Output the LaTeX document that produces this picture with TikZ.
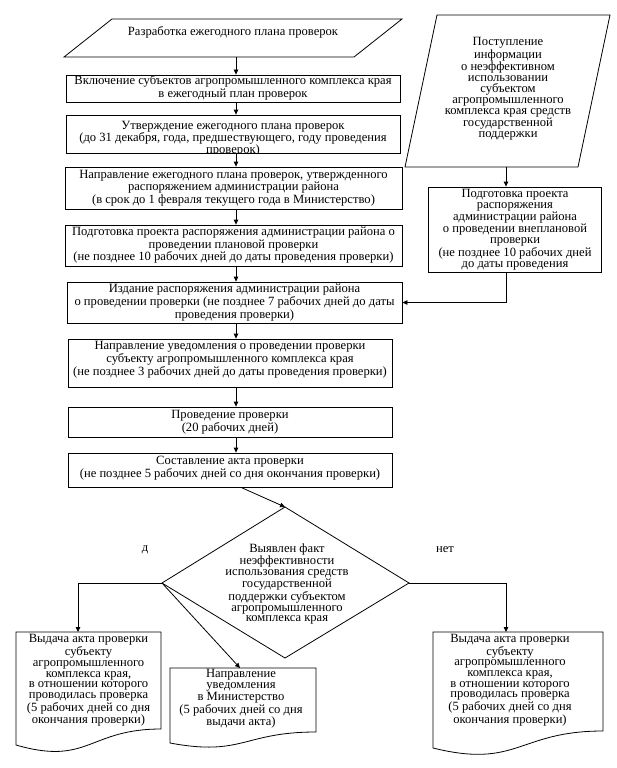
\documentclass[tikz,border=0pt]{standalone}
\usepackage{fontspec}
\setmainfont{Liberation Serif}
\usetikzlibrary{arrows.meta}
\begin{document}
\begin{tikzpicture}[x=1pt,y=-1pt,
  every node/.style={font=\fontsize{12.6}{11}\selectfont, align=center, inner sep=0pt},
  blk/.style={draw, line width=0.8pt, rectangle, inner sep=0pt},
  txt/.style={font=\fontsize{12.6}{11}\selectfont, align=center},
  dtxt/.style={font=\fontsize{12.6}{10.7}\selectfont, align=center},
  ln/.style={line width=0.8pt},
  arr/.style={line width=0.8pt, -{Triangle[length=5pt,width=4.5pt]}}]
\useasboundingbox (0,0) rectangle (617,768);
\coordinate (colx) at (236,0);
\coordinate (rcolx) at (506,0);

% top parallelogram
\coordinate (p1a) at (112,19);
\coordinate (p1b) at (402,19);
\coordinate (p1c) at (354,57);
\coordinate (p1d) at (64,57);
\draw[ln] (p1a) -- (p1b) -- (p1c) -- (p1d) -- cycle;
\node[txt] (p1) at (233,32) {Разработка ежегодного плана проверок};

% left column boxes
\node[blk, minimum width=334pt, minimum height=27pt] (b2) at (233,88.5) {};
\node[txt] (b2t) at (233,88) {Включение субъектов агропромышленного комплекса края\\в ежегодный план проверок};

\node[blk, minimum width=334pt, minimum height=38pt] (b3) at (233,134) {};
\begin{scope}
\clip (b3.north west) rectangle (b3.south east);
\node[txt, font=\fontsize{12.6}{12}\selectfont] (b3t) at (233,139) {Утверждение ежегодного плана проверок\\(до 31 декабря, года, предшествующего, году проведения\\проверок)};
\end{scope}

\node[blk, minimum width=337pt, minimum height=42pt] (b4) at (233.5,188) {};
\node[txt] (b4t) at (233.5,188) {Направление ежегодного плана проверок, утвержденного\\распоряжением администрации района\\(в срок до 1 февраля текущего года в Министерство)};

\node[blk, minimum width=337pt, minimum height=41pt] (b5) at (233.5,245.5) {};
\node[txt] (b5t) at (233.5,245.5) {Подготовка проекта распоряжения администрации района о\\проведении плановой проверки\\(не позднее 10 рабочих дней до даты проведения проверки)};

\node[blk, minimum width=335pt, minimum height=41pt] (b6) at (234.5,302.5) {};
\node[txt] (b6t) at (234.5,302.5) {Издание распоряжения администрации района\\о проведении проверки (не позднее 7 рабочих дней до даты\\проведения проверки)};

\node[blk, minimum width=324pt, minimum height=48pt] (b7) at (230,363) {};
\node[txt] (b7t) at (230,359.5) {Направление уведомления о проведении проверки\\субъекту агропромышленного комплекса края\\(не позднее 3 рабочих дней до даты проведения проверки)};

\node[blk, minimum width=324pt, minimum height=30pt] (b8) at (230,422) {};
\node[txt] (b8t) at (230,422) {Проведение проверки\\(20 рабочих дней)};

\node[blk, minimum width=324pt, minimum height=34pt] (b9) at (230,470) {};
\node[txt] (b9t) at (230,468) {Составление акта проверки\\(не позднее 5 рабочих дней со дня окончания проверки)};

% right column
\coordinate (rpa) at (437,15);
\coordinate (rpb) at (610,15);
\coordinate (rpc) at (578,167);
\coordinate (rpd) at (405,167);
\draw[ln] (rpa) -- (rpb) -- (rpc) -- (rpd) -- cycle;
\node[txt] (rpt) at (508,89) {Поступление\\информации\\о неэффективном\\использовании\\субъектом\\агропромышленного\\комплекса края средств\\государственной\\поддержки};

\node[blk, minimum width=173pt, minimum height=85pt] (rb) at (514.5,229.5) {};
\node[txt] (rbt) at (515,229.5) {Подготовка проекта\\распоряжения\\администрации района\\о проведении внеплановой\\проверки\\(не позднее 10 рабочих дней\\до даты проведения};

% diamond
\coordinate (dT) at (285,507);
\coordinate (dL) at (162,583);
\coordinate (dR) at (409,583);
\coordinate (dB) at (285,658);
\draw[ln] (dT) -- (dR) -- (dB) -- (dL) -- cycle;
\node[dtxt] (dt) at (287,584) {Выявлен факт\\неэффективности\\использования средств\\государственной\\поддержки субъектом\\агропромышленного\\комплекса края};
\node[txt] (yes) at (145,550) {д};
\node[txt] (no) at (445,550) {нет};

% documents
\coordinate (dLa) at (16,632);
\coordinate (dLb) at (161,632);
\coordinate (dLin) at (78,632);
\draw[ln] (dLa) -- (dLb) -- (161,729) .. controls (88.5,729) and (88.5,766) .. (16,745) -- cycle;
\node[dtxt] (docLt) at (88.5,680.5) {Выдача акта проверки\\субъекту\\агропромышленного\\комплекса края,\\в отношении которого\\проводилась проверка\\(5 рабочих дней со дня\\окончания проверки)};

\coordinate (dMa) at (170,668);
\coordinate (dMb) at (316,668);
\coordinate (dMin) at (240,668);
\draw[ln] (dMa) -- (dMb) -- (316,732) .. controls (243,732) and (243,756.6) .. (170,743) -- cycle;
\node[dtxt] (docMt) at (241,699) {Направление\\уведомления\\в Министерство\\(5 рабочих дней со дня\\выдачи акта)};

\coordinate (dRa) at (433,632);
\coordinate (dRb) at (603,632);
\draw[ln] (dRa) -- (dRb) -- (603,731) .. controls (518,731) and (518,769) .. (433,748) -- cycle;
\node[dtxt] (docRt) at (510,680) {Выдача акта проверки\\субъекту\\агропромышленного\\комплекса края,\\в отношении которого\\проводилась проверка\\(5 рабочих дней со дня\\окончания проверки)};

% connectors
\draw[arr] (p1d -| colx) -- (b2.north -| colx);
\draw[arr] (b2.south -| colx) -- (b3.north -| colx);
\draw[arr] (b3.south -| colx) -- (b4.north -| colx);
\draw[arr] (b4.south -| colx) -- (b5.north -| colx);
\draw[arr] (b5.south -| colx) -- (b6.north -| colx);
\draw[arr] (b6.south -| colx) -- (b7.north -| colx);
\draw[arr] (b7.south -| colx) -- (b8.north -| colx);
\draw[arr] (b8.south -| colx) -- (b9.north -| colx);
\draw[arr] ([xshift=11pt]b9.south) -- (dT);
\draw[arr] (rpd -| rcolx) -- (rb.north -| rcolx);
\draw[arr] (rb.south -| rcolx) |- (b6.east);
\draw[arr] (dL) -| (dLin);
\draw[arr] (dL) -- (dMin);
\draw[arr] (dR) -| (rcolx |- dRa);
\end{tikzpicture}
\end{document}
